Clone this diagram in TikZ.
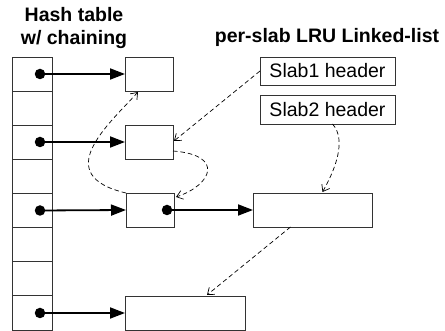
\documentclass[tikz,border=0pt]{standalone}
\usepackage{fontspec}
\setmainfont{Liberation Sans}
\usetikzlibrary{arrows.meta}
\begin{document}
\begin{tikzpicture}[x=1pt,y=-1pt,
  cell/.style={draw=black!80, line width=0.9pt, minimum width=40pt, minimum height=34.125pt, inner sep=0pt, outer sep=0pt, anchor=north west},
  box/.style={draw=black!80, line width=0.9pt, inner sep=0pt, outer sep=0pt, anchor=north west},
  dotnode/.style={circle, fill=black, inner sep=0pt, minimum size=10.5pt},
  ptr/.style={line width=1.8pt, -{Triangle[length=15pt,width=11pt]}},
  lru/.style={line width=0.7pt, dash pattern=on 4.5pt off 3pt, -{Straight Barb[length=6pt,width=9pt]}},
  title/.style={font=\bfseries\fontsize{19.5}{22}\selectfont, anchor=base, inner sep=0pt},
  label/.style={font=\fontsize{19.5}{22}\selectfont}
]
\useasboundingbox (0,0) rectangle (445,331);
% titles
\node[title] (t1) at (74,22) {Hash table};
\node[title] (t2) at (74,45) {w/ chaining};
\node[title] (t3) at (327,43) {per-slab LRU Linked-list};
% hash table cells
\foreach \i in {0,...,7} {
  \node[cell] (h\i) at (12,{57+34.125*\i}) {};
}
% dots in the table
\node[dotnode] (d0) at (40,74) {};
\node[dotnode] (d2) at (40,142) {};
\node[dotnode] (d4) at (40,210.5) {};
\node[dotnode] (d7) at (40,313) {};
% item boxes
\node[box, minimum width=48pt, minimum height=34pt] (b1) at (125,57) {};
\node[box, minimum width=48pt, minimum height=34pt] (b2) at (125,125) {};
\node[box, minimum width=48pt, minimum height=34pt] (b3) at (126,193) {};
\node[box, minimum width=119pt, minimum height=34pt] (b4) at (253,193) {};
\node[box, minimum width=120pt, minimum height=34pt] (b5) at (125,296) {};
\node[dotnode] (d3) at (167,210) {};
% slab headers
\node[box, label, minimum width=135pt, minimum height=28pt] (s1) at (260,57) {Slab1 header};
\node[box, label, minimum width=135pt, minimum height=29pt] (s2) at (260,95) {Slab2 header};
% hash chain pointers
\draw[ptr] (d0.center) -- (b1.west);
\draw[ptr] (d2.center) -- (b2.west);
\draw[ptr] (d4.center) -- (b3.west);
\draw[ptr] (d7.center) -- (b5.west);
\draw[ptr] (d3.center) -- (b4.west);
% LRU links
\draw[lru] (s1.west) -- ([xshift=1pt,yshift=1pt]b2.east);
\draw[lru] ([yshift=-9pt]b2.east) .. controls (225,155) and (212,185) .. ([xshift=2pt,yshift=-4pt]b3.north east);
\draw[lru] (b3.north west) .. controls (50,175) and (108,125) .. ([xshift=13pt,yshift=-1pt]b1.south west);
\draw[lru] ([xshift=5pt]s2.south) .. controls (347,140) and (335,170) .. ([xshift=10pt,yshift=1pt]b4.north);
\draw[lru] ([xshift=-22pt]b4.south) -- ([xshift=22pt,yshift=1pt]b5.north);
\end{tikzpicture}
\end{document}
